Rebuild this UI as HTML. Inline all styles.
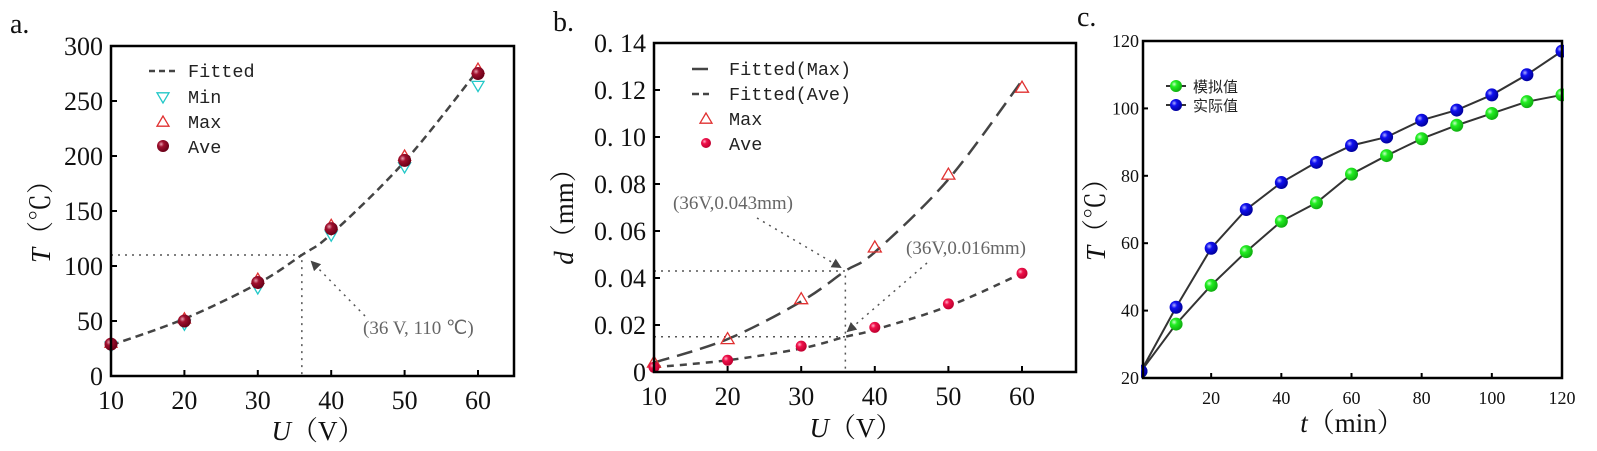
<!DOCTYPE html>
<html><head><meta charset="utf-8"><style>
html,body{margin:0;padding:0;background:#fff;}
svg{display:block;}
.tk{font-family:"Liberation Serif",serif;font-size:26px;fill:#111;}
.tkc{font-family:"Liberation Serif",serif;font-size:18px;fill:#111;}
.lg{font-family:"Liberation Mono",monospace;font-size:18.5px;fill:#222;}
.an{font-family:"Liberation Serif",serif;font-size:19px;fill:#666;}
.ttl{font-family:"Liberation Serif","Noto Serif CJK SC",serif;font-size:27px;fill:#111;}
.pl{font-family:"Liberation Serif",serif;font-size:28px;fill:#111;}
</style></head><body>
<svg id="fig" width="1597" height="451" viewBox="0 0 1597 451" xmlns="http://www.w3.org/2000/svg">
<defs>
<radialGradient id="gRed" cx="35%" cy="35%" r="65%"><stop offset="0" stop-color="#e8a0b0"/><stop offset="0.35" stop-color="#a0102e"/><stop offset="1" stop-color="#6a0018"/></radialGradient>
<radialGradient id="gPink" cx="35%" cy="35%" r="65%"><stop offset="0" stop-color="#ffb0c8"/><stop offset="0.35" stop-color="#f0104a"/><stop offset="1" stop-color="#c00030"/></radialGradient>
<radialGradient id="gGreen" cx="35%" cy="35%" r="65%"><stop offset="0" stop-color="#c8ffc8"/><stop offset="0.35" stop-color="#22ee22"/><stop offset="1" stop-color="#10b010"/></radialGradient>
<radialGradient id="gBlue" cx="35%" cy="35%" r="65%"><stop offset="0" stop-color="#b0b0ff"/><stop offset="0.35" stop-color="#1010f0"/><stop offset="1" stop-color="#0000a0"/></radialGradient>
<marker id="arr" markerWidth="10" markerHeight="10" refX="8" refY="5" orient="auto" markerUnits="userSpaceOnUse"><path d="M0,0 L10,5 L0,10 z" fill="#444"/></marker>
</defs>
</svg>
<script>
// Panel a data
const aX = [10,20,30,40,50,60];
const aAve = [29,50,85,134,196,275];
const aMax = [30,52,88,137,200,279];
const aMin = [27,47,80,128,190,264];
const aFitX = [10,20,30,36,40,50,60];
const aFitY = [28,52,84,110,129,195,278];
const aYTicks = [0,50,100,150,200,250,300];
const aXTicks = [10,20,30,40,50,60];
// Panel b data
const bX = [10,20,30,40,50,60];
const bMax = [0.004,0.014,0.031,0.053,0.084,0.121];
const bAve = [0.002,0.005,0.011,0.019,0.029,0.042];
const bFitX = [10,20,30,36,40,50,60];
const bFitMax = [0.004,0.014,0.030,0.043,0.051,0.082,0.124];
const bFitAve = [0.002,0.005,0.010,0.015,0.018,0.028,0.042];
const bYTicks = [0,0.02,0.04,0.06,0.08,0.10,0.12,0.14];
const bYLabels = ["0","0. 02","0. 04","0. 06","0. 08","0. 10","0. 12","0. 14"];
const bXTicks = [10,20,30,40,50,60];
// Panel c data
const cT = [0,10,20,30,40,50,60,70,80,90,100,110,120];
const cSim = [22,36,47.5,57.5,66.5,72,80.5,86,91,95,98.5,102,104];
const cReal = [22,41,58.5,70,78,84,89,91.5,96.5,99.5,104,110,117];
const cYTicks = [20,40,60,80,100,120];
const cXTicks = [20,40,60,80,100,120];

const NS="http://www.w3.org/2000/svg";
const svg=document.getElementById('fig');
function el(tag,attrs,parent,text){const e=document.createElementNS(NS,tag);for(const k in attrs)e.setAttribute(k,attrs[k]);if(text!==undefined)e.textContent=text;(parent||svg).appendChild(e);return e;}
function lin(d0,d1,r0,r1){return v=>r0+(v-d0)*(r1-r0)/(d1-d0);}
function smooth(pts){let d=`M${pts[0][0]},${pts[0][1]}`;for(let i=0;i<pts.length-1;i++){const p0=pts[Math.max(0,i-1)],p1=pts[i],p2=pts[i+1],p3=pts[Math.min(pts.length-1,i+2)];const c1=[p1[0]+(p2[0]-p0[0])/6,p1[1]+(p2[1]-p0[1])/6],c2=[p2[0]-(p3[0]-p1[0])/6,p2[1]-(p3[1]-p1[1])/6];d+=` C${c1[0]},${c1[1]} ${c2[0]},${c2[1]} ${p2[0]},${p2[1]}`;}return d;}
function tri(g,x,y,up,col,s){const h=s;const p=up?`${x},${y-h} ${x-h},${y+h*0.7} ${x+h},${y+h*0.7}`:`${x},${y+h} ${x-h},${y-h*0.7} ${x+h},${y-h*0.7}`;return el('polygon',{points:p,fill:'none',stroke:col,'stroke-width':1.3},g);}
function frame(g,L,T,R,B){const r=el('rect',{x:L,y:T,width:R-L,height:B-T,fill:'none',stroke:'#000','stroke-width':2.5},g);}

// ===== Panel a =====
{
const g=el('g',{});
const L=111,R=514,T=46,B=376;
const x=lin(10,60,111,478), y=lin(0,300,376,46);
const pl=el('text',{x:10,y:33,class:'pl'},g,'a.');
el('path',{d:`M${L},${y(110)} H${x(36)} V${B}`,fill:'none',stroke:'#555','stroke-width':1.5,'stroke-dasharray':'2,5'},g);
const fit=el('path',{d:smooth(aFitX.map((v,i)=>[x(v),y(aFitY[i])])),fill:'none',stroke:'#444','stroke-width':2.5,'stroke-dasharray':'8,5'},g);

const ar=el('line',{x1:365,y1:316,x2:312,y2:262,stroke:'#555','stroke-width':1.5,'stroke-dasharray':'2,5','marker-end':'url(#arr)'},g);
const an=el('text',{x:363,y:334,class:'an'},g,'(36 V, 110 ℃)');
aX.forEach((v,i)=>{
 const m1=tri(g,x(v),y(aMin[i]),false,'#22c8c8',6);
 const m2=tri(g,x(v),y(aMax[i]),true,'#e03030',6);
 const c=el('circle',{cx:x(v),cy:y(aAve[i]),r:6.5,fill:'url(#gRed)'},g);
});
frame(g,L,T,R,B);
aYTicks.forEach(v=>{el('line',{x1:L,x2:L+6,y1:y(v),y2:y(v),stroke:'#000','stroke-width':2},g);const t=el('text',{x:L-8,y:y(v)+9,class:'tk','text-anchor':'end'},g,String(v));});
aXTicks.forEach(v=>{el('line',{x1:x(v),x2:x(v),y1:B,y2:B-6,stroke:'#000','stroke-width':2},g);const t=el('text',{x:x(v),y:B+33,class:'tk','text-anchor':'middle'},g,String(v));});
const yt=el('text',{transform:`translate(50,215) rotate(-90)`,class:'ttl','text-anchor':'middle'},g);
el('tspan',{'font-style':'italic'},yt,'T');el('tspan',{},yt,'（℃）');
const xt=el('text',{x:318,y:440,class:'ttl','text-anchor':'middle'},g);
el('tspan',{'font-style':'italic'},xt,'U');el('tspan',{},xt,'（V）');
const lg=el('g',{},g);
el('line',{x1:149,x2:178,y1:71,y2:71,stroke:'#444','stroke-width':2.5,'stroke-dasharray':'6,4'},lg);
el('text',{x:188,y:77,class:'lg'},lg,'Fitted');
tri(lg,163,97,false,'#22c8c8',6);el('text',{x:188,y:103,class:'lg'},lg,'Min');
tri(lg,163,122,true,'#e03030',6);el('text',{x:188,y:128,class:'lg'},lg,'Max');
el('circle',{cx:163,cy:146,r:6,fill:'url(#gRed)'},lg);el('text',{x:188,y:153,class:'lg'},lg,'Ave');
}

// ===== Panel b =====
{
const g=el('g',{});
const L=654,R=1076,T=43,B=372;
const x=lin(10,60,654,1022), y=lin(0,0.14,372,43);
const pl=el('text',{x:553,y:31,class:'pl'},g,'b.');
el('path',{d:`M${L},${y(0.043)} H${x(36)} V${B}`,fill:'none',stroke:'#555','stroke-width':1.5,'stroke-dasharray':'2,5'},g);
el('path',{d:`M${L},${y(0.015)} H${x(36)}`,fill:'none',stroke:'#555','stroke-width':1.5,'stroke-dasharray':'2,5'},g);
const f1=el('path',{d:smooth(bFitX.map((v,i)=>[x(v),y(bFitMax[i])])),fill:'none',stroke:'#444','stroke-width':2.5,'stroke-dasharray':'16,8'},g);
const f2=el('path',{d:smooth(bFitX.map((v,i)=>[x(v),y(bFitAve[i])])),fill:'none',stroke:'#444','stroke-width':2.5,'stroke-dasharray':'7,6'},g);
el('line',{x1:757,y1:218,x2:840,y2:267,stroke:'#555','stroke-width':1.5,'stroke-dasharray':'2,5','marker-end':'url(#arr)'},g);
el('line',{x1:927,y1:263,x2:848,y2:331,stroke:'#555','stroke-width':1.5,'stroke-dasharray':'2,5','marker-end':'url(#arr)'},g);
const a1=el('text',{x:673,y:209,class:'an'},g,'(36V,0.043mm)');
const a2=el('text',{x:906,y:254,class:'an'},g,'(36V,0.016mm)');
bX.forEach((v,i)=>{
 const m=tri(g,x(v),y(bMax[i]),true,'#e03030',6.5);
 const c=el('circle',{cx:x(v),cy:y(bAve[i]),r:5.5,fill:'url(#gPink)'},g);
});
frame(g,L,T,R,B);
bYTicks.forEach((v,i)=>{el('line',{x1:L,x2:L+6,y1:y(v),y2:y(v),stroke:'#000','stroke-width':2},g);const t=el('text',{x:L-8,y:y(v)+9,class:'tk','text-anchor':'end'},g,bYLabels[i]);});
bXTicks.forEach(v=>{el('line',{x1:x(v),x2:x(v),y1:B,y2:B-6,stroke:'#000','stroke-width':2},g);const t=el('text',{x:x(v),y:B+33,class:'tk','text-anchor':'middle'},g,String(v));});
const yt=el('text',{transform:`translate(573,210) rotate(-90)`,class:'ttl','text-anchor':'middle'},g);
el('tspan',{'font-style':'italic'},yt,'d');el('tspan',{},yt,'（mm）');
const xt=el('text',{x:856,y:437,class:'ttl','text-anchor':'middle'},g);
el('tspan',{'font-style':'italic'},xt,'U');el('tspan',{},xt,'（V）');
const lg=el('g',{},g);
el('line',{x1:692,x2:708,y1:69,y2:69,stroke:'#444','stroke-width':2.5},lg);el('text',{x:729,y:75,class:'lg'},lg,'Fitted(Max)');
el('line',{x1:692,x2:699,y1:94,y2:94,stroke:'#444','stroke-width':2.5},lg);el('line',{x1:703,x2:709,y1:94,y2:94,stroke:'#444','stroke-width':2.5},lg);el('text',{x:729,y:100,class:'lg'},lg,'Fitted(Ave)');
tri(lg,706,119,true,'#e03030',6);el('text',{x:729,y:125,class:'lg'},lg,'Max');
el('circle',{cx:706,cy:143,r:5,fill:'url(#gPink)'},lg);el('text',{x:729,y:150,class:'lg'},lg,'Ave');
}

// ===== Panel c =====
{
const g=el('g',{});
const L=1143,R=1562,T=41,B=378;
const x=lin(0,120,1141,1562), y=lin(20,120,378,41);
const pl=el('text',{x:1077,y:26,class:'pl'},g,'c.');
const s1=el('polyline',{points:cT.map((v,i)=>`${x(v)},${y(cSim[i])}`).join(' '),fill:'none',stroke:'#333','stroke-width':2},g);
const s2=el('polyline',{points:cT.map((v,i)=>`${x(v)},${y(cReal[i])}`).join(' '),fill:'none',stroke:'#333','stroke-width':2},g);
cT.forEach((v,i)=>{
 const a=el('circle',{cx:x(v),cy:y(cSim[i]),r:6.5,fill:'url(#gGreen)'},g);
 const b=el('circle',{cx:x(v),cy:y(cReal[i]),r:6.5,fill:'url(#gBlue)'},g);
});
el('rect',{x:1100,y:30,width:41,height:360,fill:'#fff'},g);
el('rect',{x:1564,y:30,width:40,height:360,fill:'#fff'},g);
frame(g,L,T,R,B);
cYTicks.forEach(v=>{el('line',{x1:L,x2:L+5,y1:y(v),y2:y(v),stroke:'#000','stroke-width':2},g);const t=el('text',{x:L-4,y:y(v)+6,class:'tkc','text-anchor':'end'},g,String(v));});
cXTicks.forEach(v=>{el('line',{x1:x(v),x2:x(v),y1:B,y2:B-5,stroke:'#000','stroke-width':2},g);const t=el('text',{x:x(v),y:B+26,class:'tkc','text-anchor':'middle'},g,String(v));});
const yt=el('text',{transform:`translate(1105,213) rotate(-90)`,class:'ttl','text-anchor':'middle','font-size':'22'},g);
el('tspan',{'font-style':'italic'},yt,'T');el('tspan',{},yt,'（℃）');
const xt=el('text',{x:1352,y:432,class:'ttl','text-anchor':'middle','font-size':'22'},g);
el('tspan',{'font-style':'italic'},xt,'t');el('tspan',{},xt,'（min）');
const lg=el('g',{},g);
el('line',{x1:1166,x2:1186,y1:86,y2:86,stroke:'#333','stroke-width':2},lg);el('circle',{cx:1176,cy:86,r:6,fill:'url(#gGreen)'},lg);
el('text',{x:1193,y:92,'font-family':'"Liberation Sans","Noto Sans CJK SC",sans-serif','font-size':'15',fill:'#222'},lg,'模拟值');
el('line',{x1:1166,x2:1186,y1:105,y2:105,stroke:'#333','stroke-width':2},lg);el('circle',{cx:1176,cy:105,r:6,fill:'url(#gBlue)'},lg);
el('text',{x:1193,y:111,'font-family':'"Liberation Sans","Noto Sans CJK SC",sans-serif','font-size':'15',fill:'#222'},lg,'实际值');
}
</script>
</body></html>
